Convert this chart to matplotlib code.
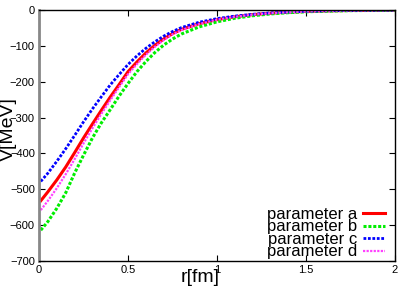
import numpy as np
import matplotlib
matplotlib.use("Agg")
import matplotlib.pyplot as plt

plt.rcParams['font.family'] = ['Liberation Sans', 'DejaVu Sans']

# r [fm] sample points
r = [0.01, 0.05, 0.10, 0.15, 0.20, 0.25, 0.30, 0.35, 0.40, 0.45, 0.50,
     0.55, 0.60, 0.65, 0.70, 0.75, 0.80, 0.90, 1.00, 1.10, 1.20, 1.30,
     1.40, 1.50, 1.60, 1.75, 2.00]

v_a = [-532, -507, -474, -438, -398, -357, -318, -280, -243, -208, -172,
       -145, -120, -99, -81, -66, -54, -38, -27, -19, -13, -9,
       -6, -4, -2.5, -1.3, -0.4]
v_b = [-614, -590, -553, -510, -455, -405, -357, -315, -278, -240, -205,
       -172, -144, -119, -98, -81, -67, -47, -33, -23, -16, -11,
       -7.5, -5, -3.3, -1.8, -0.6]
v_c = [-478, -455, -422, -387, -350, -312, -276, -242, -209, -180, -152,
       -128, -107, -89, -73, -60, -49, -34, -24, -17, -12, -8,
       -5.5, -3.7, -2.4, -1.2, -0.4]
v_d = [-558, -532, -497, -458, -416, -372, -330, -290, -252, -215, -179,
       -151, -125, -103, -84, -68, -56, -39, -27, -19, -13, -9,
       -6, -4, -2.5, -1.3, -0.4]

labels = ['parameter a', 'parameter b', 'parameter c', 'parameter d']

W, H = 409, 286
fig = plt.figure(figsize=(W / 100, H / 100), dpi=100)
ax = fig.add_axes([39/W, 1 - 261/H, 356/W, 251/H])

ax.plot(r, v_a, color='#ff0000', lw=2.2, label=labels[0])
ax.plot(r, v_b, color='#00ee00', lw=2.2, ls=(0, (1, 0.6)), label=labels[1])
ax.plot(r, v_c, color='#0000ff', lw=2.0, ls=(0, (1, 0.6)), label=labels[2])
ax.plot(r, v_d, color='#ff40ff', lw=1.6, ls=(0, (1, 0.6)), label=labels[3])

ax.set_xlim(0, 2)
ax.set_ylim(-700, 0)
ax.set_xticks([0, 0.5, 1, 1.5, 2])
ax.set_xticklabels(['0', '0.5', '1', '1.5', '2'])
ax.set_yticks(range(-700, 1, 100))
ax.tick_params(direction='in', length=4, labelsize=8, top=True, right=True,
               pad=3)

for s in ['top', 'right', 'bottom']:
    ax.spines[s].set_linewidth(1.0)
ax.spines['left'].set_color('#888888')
ax.spines['left'].set_linewidth(2.0)

# axis titles placed like the gnuplot original
fig.text(200/W, 1 - 277/H, 'r[fm]', fontsize=14, ha='center', va='center')
fig.text(8/W, 1 - 129/H, 'V[MeV]', fontsize=14, ha='center', va='center',
         rotation=90)

leg = ax.legend(loc='lower right', frameon=False, fontsize=12,
                markerfirst=False, handlelength=1.35, handletextpad=0.35,
                labelspacing=-0.15, borderaxespad=0, borderpad=0.1,
                bbox_to_anchor=(387/W, 1 - 261/H),
                bbox_transform=fig.transFigure)

fig.savefig('out.png', dpi=100)
